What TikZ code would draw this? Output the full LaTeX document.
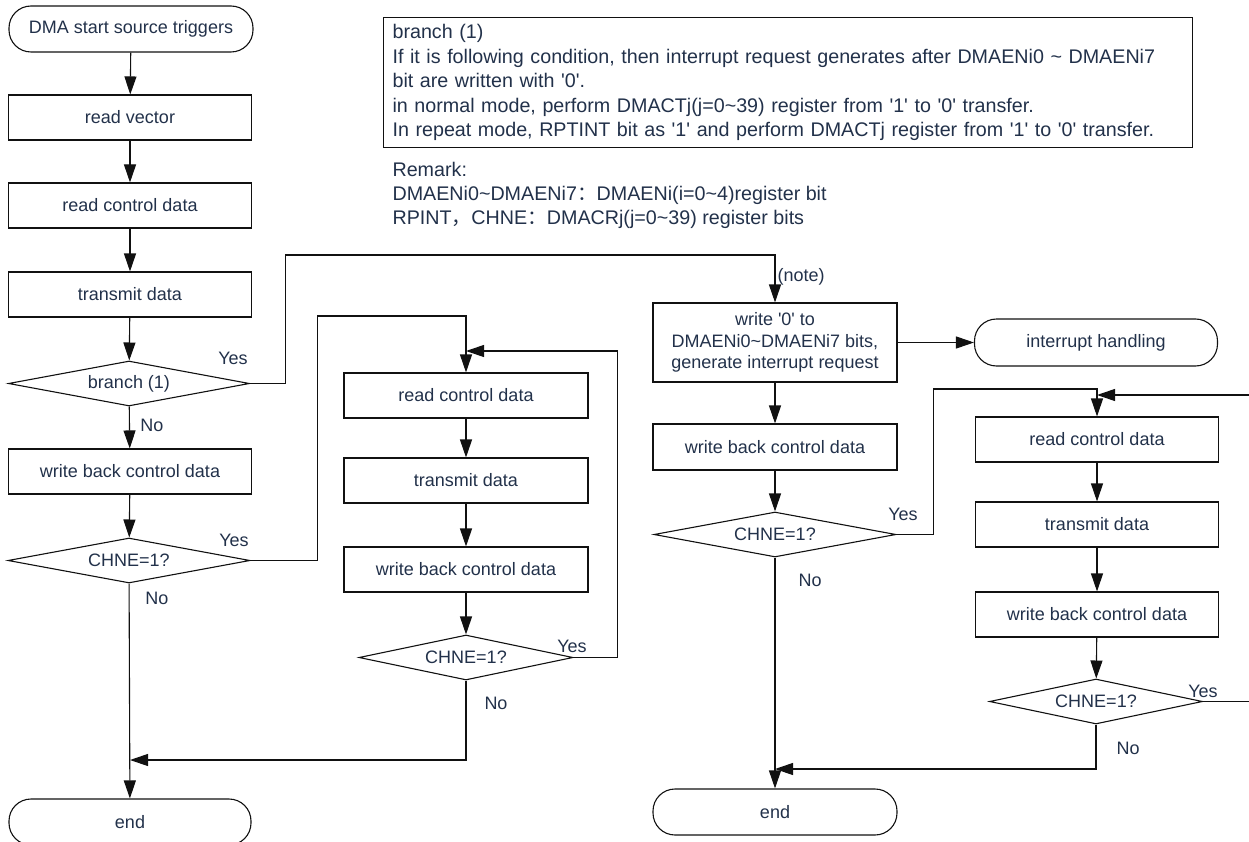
\documentclass[tikz,border=0pt]{standalone}
\usepackage{fontspec}
\setmainfont{Liberation Sans}
\newfontfamily\cjkfont{Noto Sans CJK SC}
\usetikzlibrary{arrows.meta,shapes.geometric}

\definecolor{dmaText}{HTML}{22314A}
\definecolor{dmaLine}{HTML}{111111}
\newcommand{\tld}{\textasciitilde}
\newcommand{\sq}{\textquotesingle}

\begin{document}
\begin{tikzpicture}[x=1pt, y=-1pt, line width=1.1pt,
  font=\fontsize{18}{21.5}\selectfont,
  every node/.style={text=dmaText},
  flowbox/.style={draw=dmaLine, rectangle, minimum width=243pt, minimum height=45pt, inner sep=0pt, align=center},
  flowend/.style={draw=dmaLine, rectangle, rounded corners=22pt, minimum width=244pt, minimum height=46pt, inner sep=0pt},
  flowtest/.style={draw=dmaLine, diamond, aspect=4, minimum height=45pt, inner sep=0pt},
  flowarrow/.style={draw=dmaLine, -{Triangle[length=18pt,width=12pt]}},
  answer/.style={inner sep=0pt}]
\useasboundingbox (0,0) rectangle (1249,842);
% first column
\node[flowend] (startA) at (131,29) {DMA start source triggers};
\node[flowbox] (readvecA) at (130,117.5) {read vector};
\node[flowbox] (readctlA) at (130,205.5) {read control data};
\node[flowbox] (xmitA) at (130,294.5) {transmit data};
\node[flowtest, minimum width=241pt] (branchA) at (129,383.5) {branch (1)};
\node[flowbox] (wbackA) at (130,471.5) {write back control data};
\node[flowtest, minimum width=242pt] (chneA) at (129,560.5) {CHNE=1?};
\node[flowend, minimum width=242pt] (finishA) at (130,822) {end};
% second column
\node[flowbox, minimum width=244pt] (readctlB) at (466,395.5) {read control data};
\node[flowbox, minimum width=244pt] (xmitB) at (466,480.5) {transmit data};
\node[flowbox, minimum width=244pt] (wbackB) at (466,569.5) {write back control data};
\node[flowtest, minimum width=214pt] (chneB) at (466,657.5) {CHNE=1?};
% third column
\node[flowbox, minimum width=244pt, minimum height=79pt] (clearC) at (775,342.5)
  {write \sq0\sq\ to\\DMAENi0\tld DMAENi7 bits,\\generate interrupt request};
\node[flowend, minimum width=243pt, minimum height=47pt] (irqC) at (1096,342.5) {interrupt handling};
\node[flowbox, minimum width=244pt, minimum height=46pt] (wbackC) at (775,447) {write back control data};
\node[flowtest, minimum width=242pt] (chneC) at (775,534.5) {CHNE=1?};
\node[flowend] (finishC) at (775,812) {end};
% fourth column
\node[flowbox] (readctlD) at (1097,439.5) {read control data};
\node[flowbox] (xmitD) at (1097,524.5) {transmit data};
\node[flowbox] (wbackD) at (1097,614.5) {write back control data};
\node[flowtest, minimum width=213pt] (chneD) at (1096,701.5) {CHNE=1?};
% join points
\coordinate (joinA) at (130,760);
\coordinate (loopB) at (466,351);
\coordinate (joinC) at (775,769);
\coordinate (loopD) at (1097,395);
% connectors
\draw[flowarrow] (startA) -- (readvecA);
\draw[flowarrow] (readvecA) -- (readctlA);
\draw[flowarrow] (readctlA) -- (xmitA);
\draw[flowarrow] (xmitA) -- (branchA);
\draw[flowarrow] (branchA) -- (wbackA);
\draw[flowarrow] (wbackA) -- (chneA);
\draw[flowarrow] (chneA) -- (finishA);
\draw[flowarrow] (branchA.east) -| ++(35,-128.5) -| (clearC.north);
\draw[flowarrow] (chneA.east) -| ++(67,-244.5) -| (readctlB.north);
\draw[flowarrow] (readctlB) -- (xmitB);
\draw[flowarrow] (xmitB) -- (wbackB);
\draw[flowarrow] (wbackB) -- (chneB);
\draw[flowarrow] (chneB.east) -| ++(44,-306.5) -- (loopB);
\draw[flowarrow] (chneB.south) |- (joinA);
\draw[flowarrow] (clearC.east) -- (irqC.west);
\draw[flowarrow] (clearC) -- (wbackC);
\draw[flowarrow] (wbackC) -- (chneC);
\draw[flowarrow] (chneC) -- (finishC);
\draw[flowarrow] (chneC.east) -| ++(37,-145.5) -| (readctlD.north);
\draw[flowarrow] (readctlD) -- (xmitD);
\draw[flowarrow] (xmitD) -- (wbackD);
\draw[flowarrow] (wbackD) -- (chneD);
\draw[flowarrow] (chneD.east) -| ++(55,-306.5) -- (loopD);
\draw[flowarrow] (chneD.south) |- (joinC);
% answers
\node[answer] (yesA1) at (233,358) {Yes};
\node[answer] (noA1) at (152,425) {No};
\node[answer] (yesA2) at (234,540) {Yes};
\node[answer] (noA2) at (157,598) {No};
\node[answer] (yesB) at (572,646) {Yes};
\node[answer] (noB) at (496,703) {No};
\node[answer] (yesC) at (903,514) {Yes};
\node[answer] (noC) at (810,580) {No};
\node[answer] (yesD) at (1203,691) {Yes};
\node[answer] (noD) at (1128,748) {No};
\node[answer, anchor=west] (noteMark) at (777,277) {(note)};
% note and remark
\node[draw=dmaLine, anchor=north west, inner xsep=9pt, inner ysep=0pt,
  minimum width=809pt, minimum height=130pt, text width=791pt, align=left,
  font=\fontsize{19.7}{24.5}\selectfont] (noteBox) at (383,17)
  {branch (1)\\
   If it is following condition, then interrupt request generates after DMAENi0 \tld\ DMAENi7\\
   bit are written with \sq0\sq.\\
   in normal mode, perform DMACTj(j=0\tld39) register from \sq1\sq\ to \sq0\sq\ transfer.\\
   In repeat mode, RPTINT bit as \sq1\sq\ and perform DMACTj register from \sq1\sq\ to \sq0\sq\ transfer.};
\node[anchor=north west, inner sep=0pt, align=left,
  font=\fontsize{19.7}{24}\selectfont] (remark) at (392,162)
  {Remark:\\
   DMAENi0\tld DMAENi7{\cjkfont ：}DMAENi(i=0\tld4)register bit\\
   RPINT{\cjkfont ，}CHNE{\cjkfont ：}DMACRj(j=0\tld39) register bits};
\end{tikzpicture}
\end{document}
